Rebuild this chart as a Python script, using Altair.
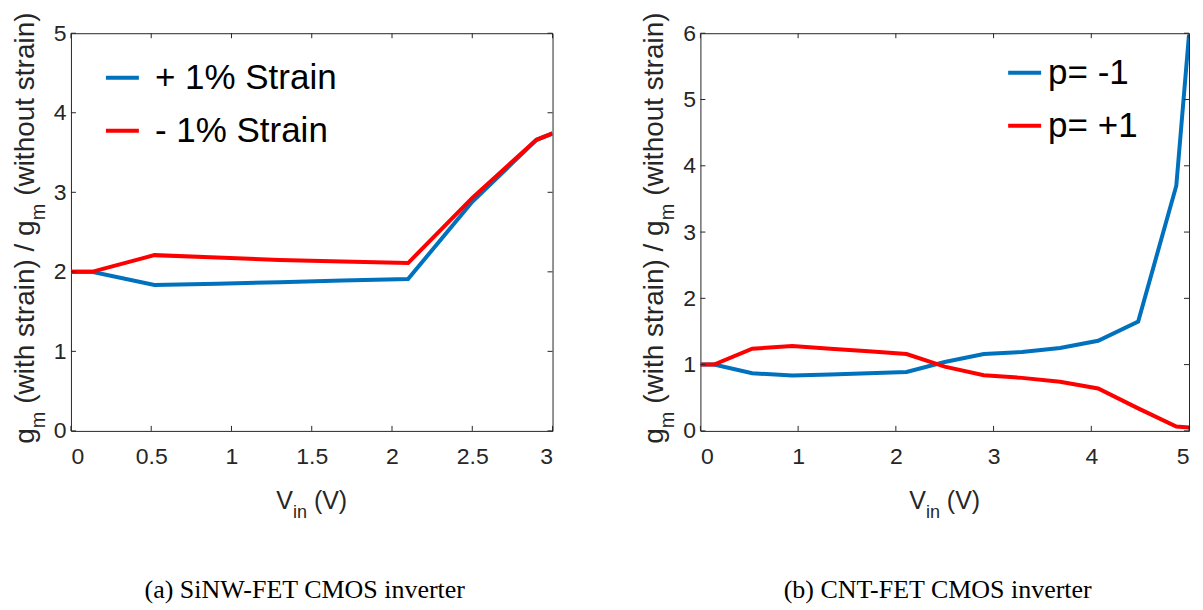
import altair as alt
import pandas as pd

# ---------------- data ----------------
# (a) SiNW-FET CMOS inverter
a_vin = [0.0, 0.13, 0.52, 0.91, 1.30, 1.69, 2.10, 2.50, 2.90, 3.00]
a_plus = [2.00, 2.00, 1.835, 1.85, 1.87, 1.89, 1.91, 2.88, 3.66, 3.74]
a_minus = [2.00, 2.00, 2.21, 2.18, 2.15, 2.13, 2.11, 2.93, 3.66, 3.74]
a_series = ["+ 1% Strain", "- 1% Strain"]
a_xticks = [0, 0.5, 1, 1.5, 2, 2.5, 3]
a_yticks = [0, 1, 2, 3, 4, 5]

# (b) CNT-FET CMOS inverter
b_vin = [0.0, 0.14, 0.53, 0.94, 1.33, 1.72, 2.11, 2.50, 2.90, 3.29, 3.68, 4.07, 4.48, 4.87, 5.00]
b_pm1 = [1.00, 1.00, 0.87, 0.835, 0.85, 0.87, 0.89, 1.04, 1.16, 1.19, 1.25, 1.36, 1.65, 3.70, 5.98]
b_pp1 = [1.00, 1.00, 1.24, 1.28, 1.24, 1.20, 1.16, 0.97, 0.84, 0.80, 0.74, 0.64, 0.34, 0.065, 0.05]
b_series = ["p= -1", "p= +1"]
b_xticks = [0, 1, 2, 3, 4, 5]
b_yticks = [0, 1, 2, 3, 4, 5, 6]

captions = ["(a) SiNW-FET CMOS inverter", "(b) CNT-FET CMOS inverter"]

BLUE = "#0072BD"
RED = "#FF0000"
AXC = "#262626"
SANS = "Liberation Sans"
SERIF = "Liberation Serif"

# Arial / Liberation Sans advance widths (per em) for layout of composed titles
W_EM = {" ": .278, "(": .333, ")": .333, "/": .278, "a": .556, "g": .556, "h": .556,
        "i": .222, "m": .833, "n": .556, "o": .556, "r": .333, "s": .5, "t": .278,
        "u": .556, "w": .722, "V": .667}


def tw(s, fs):
    return sum(W_EM.get(c, .556) for c in s) * fs


def text_layer(txt, x, y, fs, angle=0, align="left", baseline="alphabetic", font=SANS, color=AXC):
    return alt.Chart(pd.DataFrame({"t": [txt]})).mark_text(
        angle=angle, align=align, baseline=baseline, fontSize=fs, font=font, color=color
    ).encode(x=alt.value(x), y=alt.value(y), text="t:N")


def panel(vin, s1, s2, names, xdom, xticks, ydom, yticks, W, H, leg_x, leg_y, leg_off, caption):
    df = pd.DataFrame({
        "vin": vin + vin,
        "g": s1 + s2,
        "series": [names[0]] * len(vin) + [names[1]] * len(vin),
    })
    xaxis = alt.Axis(values=xticks, format="~g", title=None, domain=False, ticks=False, grid=False,
                     labelFont=SANS, labelFontSize=23, labelColor=AXC, labelPadding=15)
    yaxis = alt.Axis(values=yticks, format="~g", title=None, domain=False, ticks=False, grid=False,
                     labelFont=SANS, labelFontSize=23, labelColor=AXC, labelPadding=5)
    xs = alt.Scale(domain=xdom, nice=False, zero=False)
    ys = alt.Scale(domain=ydom, nice=False, zero=False)

    lines = alt.Chart(df).mark_line(strokeWidth=4, clip=True).encode(
        x=alt.X("vin:Q", scale=xs, axis=xaxis),
        y=alt.Y("g:Q", scale=ys, axis=yaxis),
        color=alt.Color("series:N", sort=names,
                        scale=alt.Scale(domain=names, range=[BLUE, RED]),
                        legend=alt.Legend(orient="none", legendX=leg_x, legendY=leg_y, title=None,
                                          symbolType="stroke", symbolSize=1089, symbolStrokeWidth=4,
                                          labelFont=SANS, labelFontSize=35, labelColor="#000000",
                                          labelOffset=leg_off, rowPadding=16, padding=0,
                                          symbolOffset=0, labelLimit=400)),
    )

    xt = pd.DataFrame({"vin": xticks})
    yt = pd.DataFrame({"g": yticks})
    tick_style = dict(color=AXC, strokeWidth=1)
    tx_bot = alt.Chart(xt).mark_rule(**tick_style).encode(
        x=alt.X("vin:Q", scale=xs, axis=xaxis), y=alt.value(H), y2=alt.value(H - 5))
    tx_top = alt.Chart(xt).mark_rule(**tick_style).encode(
        x=alt.X("vin:Q", scale=xs, axis=xaxis), y=alt.value(0), y2=alt.value(5))
    ty_l = alt.Chart(yt).mark_rule(**tick_style).encode(
        y=alt.Y("g:Q", scale=ys, axis=yaxis), x=alt.value(0), x2=alt.value(5))
    ty_r = alt.Chart(yt).mark_rule(**tick_style).encode(
        y=alt.Y("g:Q", scale=ys, axis=yaxis), x=alt.value(W - 5), x2=alt.value(W))

    # y title: g_m (with strain) / g_m (without strain)   (piece, font size, gap before)
    F, S = 28, 20
    sp = tw(" ", F)
    pieces = [("g", F, 0), ("m", S, 0), ("(with strain) / g", F, sp), ("m", S, 0),
              ("(without strain)", F, sp)]
    L = sum(tw(p, f) + g for p, f, g in pieces)
    cur = H / 2 - 4 + L / 2
    ylayers = []
    for p, f, g in pieces:
        cur -= g
        bx = -37 if f == F else -26
        ylayers.append(text_layer(p, bx, cur, f, angle=270))
        cur -= tw(p, f)

    # x title: V_in (V)
    XF, XS = 25, 18
    xp = [("V", XF, 0), ("in", XS, 0), ("(V)", XF, tw(" ", XF))]
    XL = sum(tw(p, f) + g for p, f, g in xp)
    cx = W / 2 - XL / 2
    xlayers = []
    for p, f, g in xp:
        cx += g
        by = H + 78 if f == XF else H + 87
        xlayers.append(text_layer(p, cx, by, f))
        cx += tw(p, f)

    cap = text_layer(caption, W / 2 - 7, H + 159, 26, align="center", baseline="middle",
                     font=SERIF, color="#000000")

    return alt.layer(lines, tx_bot, tx_top, ty_l, ty_r, *ylayers, *xlayers, cap).properties(
        width=W, height=H)


left = panel(a_vin, a_plus, a_minus, a_series, [0, 3], a_xticks, [0, 5], a_yticks,
             482, 398, 33, 26, 14, captions[0])
right = panel(b_vin, b_pm1, b_pp1, b_series, [0, 5], b_xticks, [0, 6], b_yticks,
              489, 398, 306, 21, 5, captions[1])

chart = alt.hconcat(left, right, spacing=87).resolve_scale(color="independent").resolve_legend(
    color="independent").properties(
    padding={"left": 3, "top": 3, "right": 5, "bottom": 5},
    background="white",
).configure_view(stroke=AXC, strokeWidth=1)

chart.save("out.html", embed_options={"renderer": "svg", "actions": False})
